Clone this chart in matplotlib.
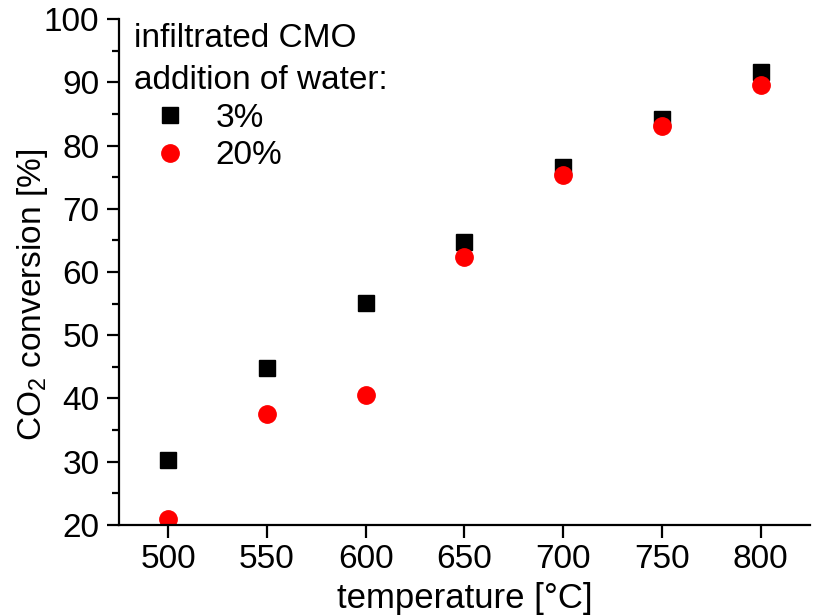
import numpy as np
import matplotlib.pyplot as plt
from matplotlib.ticker import MultipleLocator

plt.rcParams['font.family'] = ['Liberation Sans', 'DejaVu Sans']
plt.rcParams['mathtext.default'] = 'regular'

temperature = [500, 550, 600, 650, 700, 750, 800]
conv_3 = [30.3, 44.8, 55.1, 64.8, 76.6, 84.2, 91.6]
conv_20 = [21.0, 37.5, 40.5, 62.4, 75.3, 83.1, 89.6]

fig = plt.figure(figsize=(8.14, 6.16), dpi=100)
ax = fig.add_axes([0.146, 0.148, 0.849, 0.821])

ax.plot(temperature, conv_3, 's', color='black', markersize=11, label='3%')
ax.plot(temperature, conv_20, 'o', color='red', markersize=12.5, label='20%')

ax.set_xlim(475, 825)
ax.set_ylim(20, 100)
ax.xaxis.set_major_locator(MultipleLocator(50))
ax.yaxis.set_major_locator(MultipleLocator(10))
ax.yaxis.set_minor_locator(MultipleLocator(5))

for side in ['top', 'right']:
    ax.spines[side].set_visible(False)
for side in ['left', 'bottom']:
    ax.spines[side].set_linewidth(1.6)

ax.tick_params(which='major', direction='out', length=9, width=1.6, labelsize=24, pad=5)
ax.tick_params(which='minor', direction='out', length=5, width=1.6)

ax.set_xlabel('temperature [°C]', fontsize=25, labelpad=5)
ax.set_ylabel('CO$_2$ conversion [%]', fontsize=24)
ax.yaxis.set_label_coords(-0.10, 0.455)

leg = ax.legend(title='infiltrated CMO\naddition of water:', loc='upper left',
                frameon=False, fontsize=24, title_fontsize=24, alignment='left',
                handletextpad=0.25, handlelength=2.2, borderaxespad=0.1,
                labelspacing=0.2, borderpad=0.1,
                bbox_to_anchor=(0.012, 1.005))
leg.get_title().set_linespacing(1.45)

fig.savefig('out.png', dpi=100)
